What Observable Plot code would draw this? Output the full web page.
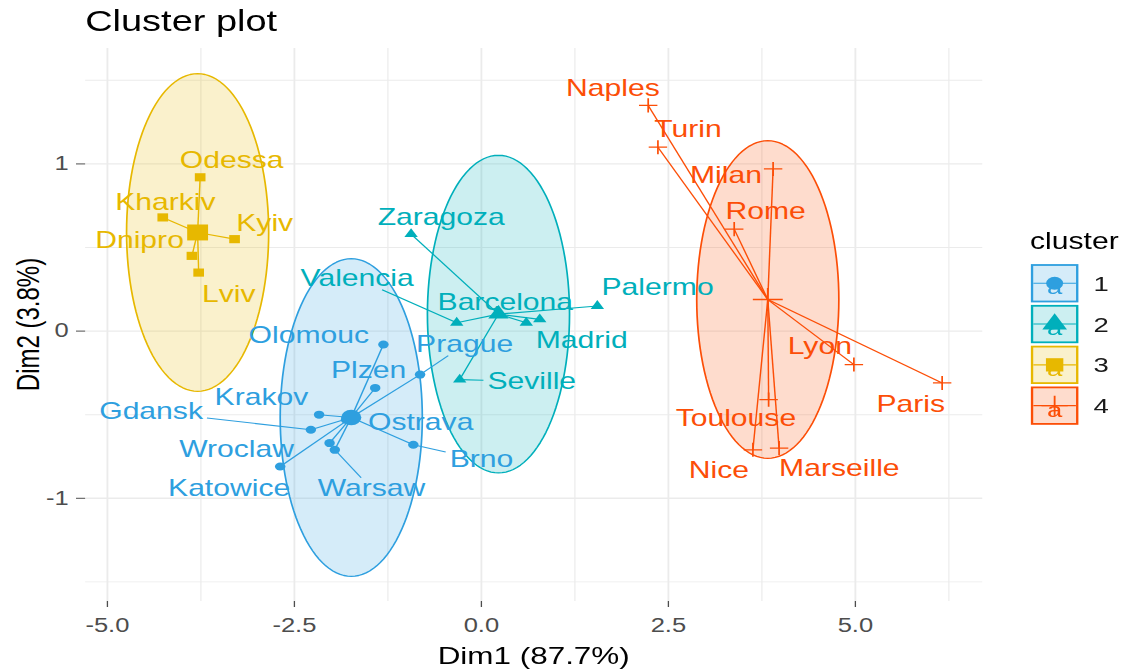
<!DOCTYPE html>
<html><head><meta charset="utf-8">
<script src="https://cdn.jsdelivr.net/npm/d3@7"></script>
<script src="https://cdn.jsdelivr.net/npm/@observablehq/plot@0.6"></script>
<style>
html,body{margin:0;padding:0;background:#fff;overflow:hidden}
#wrap{width:862px;height:672px;transform:scaleX(1.3097);transform-origin:0 0;font-family:"Liberation Sans",Arial,sans-serif}
</style></head><body><div id="wrap"></div>
<script>
// ---------- data ----------
const cities = ["Olomouc","Plzen","Prague","Krakov","Gdansk","Ostrava","Brno","Wroclaw","Warsaw","Katowice",
  "Zaragoza","Valencia","Barcelona","Madrid","Palermo","Seville",
  "Odessa","Kharkiv","Kyiv","Dnipro","Lviv",
  "Naples","Turin","Milan","Rome","Lyon","Paris","Toulouse","Nice","Marseille"];
const clusterOf = ["1","1","1","1","1","1","1","1","1","1",
  "2","2","2","2","2","2",
  "3","3","3","3","3",
  "4","4","4","4","4","4","4","4","4"];
const dim1 = [-1.31,-1.42,-0.82,-2.17,-2.28,-1.81,-0.91,-2.03,-1.96,-2.69,
  -0.94,-0.33,0.60,0.78,1.55,-0.29,
  -3.76,-4.26,-3.30,-3.87,-3.78,
  2.23,2.36,3.90,3.38,4.98,6.16,3.84,3.63,3.98];
const dim2 = [-0.08,-0.34,-0.26,-0.50,-0.59,-0.53,-0.68,-0.67,-0.71,-0.81,
  0.58,0.05,0.05,0.07,0.15,-0.29,
  0.92,0.68,0.55,0.45,0.35,
  1.35,1.10,0.97,0.61,-0.20,-0.31,-0.41,-0.71,-0.70];
const clusterIds = ["1","2","3","4"];
const palette = ["#2E9FDF","#00AFBB","#E7B800","#FC4E07"];
const clusterSymbols = ["circle","triangle","square","plus"];
const xTicks = [-5,-2.5,0,2.5,5];
const xMinor = [-6.25,-3.75,-1.25,1.25,3.75,6.25];
const yTicks = [-1,0,1];
const yMinor = [-1.5,-0.5,0.5,1.5];
const titleText = "Cluster plot";
const xTitle = "Dim1 (87.7%)";
const yTitle = "Dim2 (3.8%)";
const legendTitle = "cluster";
const ellipseLevel = 0.95;

// ---------- layout (label placement, px offsets like ggrepel) ----------
const labelNudge = {
  Olomouc:[-57,-9], Plzen:[-5,-17], Prague:[34,-30], Krakov:[-44,-17], Gdansk:[-122,-18],
  Ostrava:[57,3], Brno:[52,15], Wroclaw:[-71,7], Warsaw:[28,39], Katowice:[-39,22],
  Zaragoza:[23,-16], Valencia:[-76,-44], Barcelona:[-16,-20], Madrid:[32,21], Palermo:[46,-18], Seville:[55,2],
  Odessa:[24,-17], Kharkiv:[2,-15], Kyiv:[23,-16], Dnipro:[-40,-15], Lviv:[23,22],
  Naples:[-27,-17], Turin:[23,-18], Milan:[-36,7], Rome:[24,-17], Lyon:[-26,-18], Paris:[-24,22],
  Toulouse:[-25,19], Nice:[-26,21], Marseille:[46,21]
};
const segmentLabels = ["Gdansk","Valencia","Warsaw","Brno","Seville","Prague"];
const W = 862, H = 672, mL = 65, mR = 112, mT = 48, mB = 71;
const FONT = '"Liberation Sans", Arial, sans-serif';
const labelSize = 23;
const pointR = {"1":4, "2":3.8, "3":4.6, "4":4.6};
const centerR = {"1":7.7, "2":5.8, "3":9, "4":7.4};

// ---------- derived ----------
const rows = cities.map((c,i)=>({city:c, cluster:clusterOf[i], x:dim1[i], y:dim2[i]}));
const centers = clusterIds.map(k=>{
  const g = rows.filter(r=>r.cluster===k);
  return {cluster:k, x:d3.mean(g,d=>d.x), y:d3.mean(g,d=>d.y)};
});
const centerOf = Object.fromEntries(centers.map(c=>[c.cluster,c]));
const circlePts = [];
centers.forEach(c=>{
  for(let i=0;i<120;i++){
    const t = i/120*2*Math.PI;
    circlePts.push({cluster:c.cluster, x:c.x+ellipseLevel*Math.cos(t), y:c.y+ellipseLevel*Math.sin(t)});
  }
});
function expand(ext){const s=ext[1]-ext[0];return [ext[0]-0.05*s, ext[1]+0.05*s];}
const xDom = expand(d3.extent([...rows.map(d=>d.x), ...circlePts.map(d=>d.x)]));
const yDom = expand(d3.extent([...rows.map(d=>d.y), ...circlePts.map(d=>d.y)]));
const kx = (W-mL-mR)/(xDom[1]-xDom[0]);
const ky = (H-mT-mB)/(yDom[1]-yDom[0]);

const starLinks = rows.map(r=>({cluster:r.cluster, x1:r.x, y1:r.y, x2:centerOf[r.cluster].x, y2:centerOf[r.cluster].y}));

const ctx = document.createElement("canvas").getContext("2d");
ctx.font = `${labelSize}px ${FONT}`;
const labels = rows.map(r=>{
  const [ndx,ndy] = labelNudge[r.city] || [0,0];
  return {...r, lx:r.x+ndx/kx, ly:r.y-ndy/ky};
});
const labelSegs = [];
rows.forEach(r=>{
  if(!segmentLabels.includes(r.city)) return;
  const [ndx,ndy] = labelNudge[r.city];
  const hw = ctx.measureText(r.city).width/2+3, hh = 11;
  const vx=-ndx, vy=-ndy;
  const t = Math.min(vx?hw/Math.abs(vx):Infinity, vy?hh/Math.abs(vy):Infinity);
  if(t>=1) return;
  const ex = ndx+vx*t, ey = ndy+vy*t;
  labelSegs.push({cluster:r.cluster, x1:r.x, y1:r.y, x2:r.x+ex/kx, y2:r.y-ey/ky});
});

const gridColor = "#EBEBEB";
const marks = [
  Plot.ruleX(xMinor.filter(v=>v>xDom[0]&&v<xDom[1]), {stroke:gridColor, strokeWidth:0.9}),
  Plot.ruleY(yMinor.filter(v=>v>yDom[0]&&v<yDom[1]), {stroke:gridColor, strokeWidth:0.9}),
  Plot.ruleX(xTicks, {stroke:gridColor, strokeWidth:1.4}),
  Plot.ruleY(yTicks, {stroke:gridColor, strokeWidth:1.4}),
  Plot.axisX({ticks:xTicks, tickFormat:d=>d.toFixed(1), tickSize:6, tickPadding:11, fontSize:19.5, color:"#4D4D4D", label:null}),
  Plot.axisY({ticks:yTicks, tickFormat:d=>String(d), tickSize:7, tickPadding:6, fontSize:19.5, color:"#4D4D4D", label:null}),
  Plot.line(circlePts, {x:"x", y:"y", z:"cluster", fill:"cluster", stroke:"cluster", fillOpacity:0.2, strokeWidth:1.3, curve:"linear-closed"}),
  Plot.link(starLinks, {x1:"x1", y1:"y1", x2:"x2", y2:"y2", stroke:"cluster", strokeWidth:1.1}),
  Plot.link(labelSegs, {x1:"x1", y1:"y1", x2:"x2", y2:"y2", stroke:"cluster", strokeWidth:1.1})
];
clusterIds.forEach((k,i)=>{
  const g = rows.filter(r=>r.cluster===k);
  const c = centers.filter(d=>d.cluster===k);
  if(clusterSymbols[i]==="plus"){
    marks.push(Plot.dot(g, {x:"x", y:"y", symbol:"plus", r:pointR[k], stroke:palette[i], fill:"none", strokeWidth:1.3}));
    marks.push(Plot.dot(c, {x:"x", y:"y", symbol:"plus", r:centerR[k], stroke:palette[i], fill:"none", strokeWidth:1.4}));
  } else {
    marks.push(Plot.dot(g, {x:"x", y:"y", symbol:clusterSymbols[i], r:pointR[k], fill:palette[i], stroke:"none"}));
    marks.push(Plot.dot(c, {x:"x", y:"y", symbol:clusterSymbols[i], r:centerR[k], fill:palette[i], stroke:"none"}));
  }
});
marks.push(Plot.text(labels, {x:"lx", y:"ly", text:"city", fill:"cluster", fontSize:labelSize, lineAnchor:"middle", textAnchor:"middle"}));

const plot = Plot.plot({
  width:W, height:H, marginLeft:mL, marginRight:mR, marginTop:mT, marginBottom:mB,
  x:{domain:xDom}, y:{domain:yDom},
  color:{domain:clusterIds, range:palette},
  style:{fontFamily:FONT, background:"white", overflow:"visible"},
  marks
});
document.getElementById("wrap").appendChild(plot);

// ---------- titles & legend ----------
const svg = d3.select(plot);
svg.append("text").attr("x", mL).attr("y", 31.5).attr("text-anchor","start").attr("font-size", 29).attr("fill", "#000").attr("font-family", FONT).text(titleText);
svg.append("text").attr("x", mL+(W-mL-mR)/2).attr("y", 664).attr("text-anchor","middle").attr("font-size", 24).attr("fill","#000").attr("font-family", FONT).text(xTitle);
svg.append("text").attr("transform", `translate(30,${mT+(H-mT-mB)/2}) rotate(-90)`).attr("text-anchor","middle").attr("font-size", 24).attr("fill","#000").attr("font-family", FONT).text(yTitle);

const lg = svg.append("g").attr("font-family", FONT).attr("text-anchor","start");
lg.append("text").attr("x", 786.5).attr("y", 249.5).attr("font-size", 23).attr("fill","#000").text(legendTitle);
const keyX = 788, keyW = 34.5, keyH = 36.5, keyTops = clusterIds.map((_,i)=>265+i*40.8);
const keySymR = {"1":6.5, "2":7, "3":7.5, "4":6.5};
clusterIds.forEach((k,i)=>{
  const col = palette[i], top = keyTops[i], cx = keyX+keyW/2, cy = top+keyH/2;
  lg.append("rect").attr("x",keyX).attr("y",top).attr("width",keyW).attr("height",keyH)
    .attr("fill",col).attr("fill-opacity",0.2).attr("stroke",col).attr("stroke-width",1.8);
  lg.append("line").attr("x1",keyX+1).attr("x2",keyX+keyW-1).attr("y1",cy).attr("y2",cy).attr("stroke",col).attr("stroke-width",1.1);
  lg.append("text").attr("x",cx).attr("y",cy+11).attr("text-anchor","middle").attr("font-size",21).attr("fill",col).text("a");
  const typ = {circle:d3.symbolCircle, triangle:d3.symbolTriangle, square:d3.symbolSquare, plus:d3.symbolPlus}[clusterSymbols[i]];
  const path = d3.symbol(typ, Math.PI*keySymR[k]*keySymR[k])();
  const sp = lg.append("path").attr("d",path).attr("transform",`translate(${cx},${cy})`);
  if(clusterSymbols[i]==="plus") sp.attr("fill","none").attr("stroke",col).attr("stroke-width",1.4);
  else sp.attr("fill",col);
  lg.append("text").attr("x",835).attr("y",cy).attr("dy","0.36em").attr("font-size",21).attr("fill","#1A1A1A").text(k);
});
</script>
</body></html>
